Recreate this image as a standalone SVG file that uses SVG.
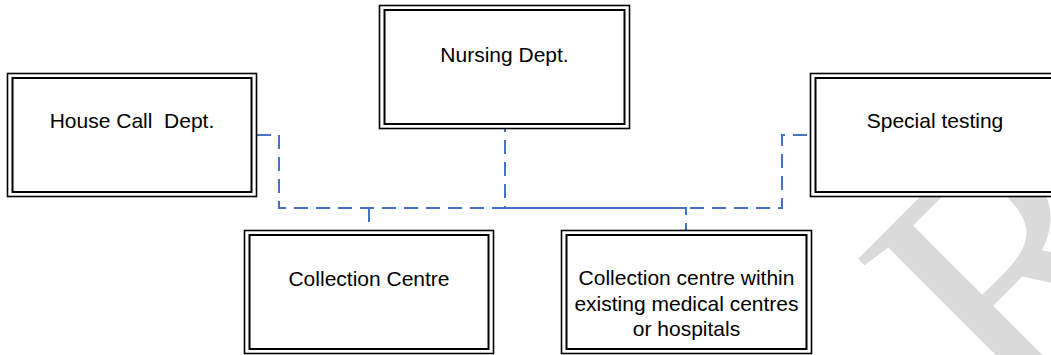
<svg xmlns="http://www.w3.org/2000/svg" width="1051" height="355" viewBox="0 0 1051 355">
  <style>
    .outer { fill: #ffffff; stroke: #000000; stroke-width: 1.6; }
    .inner { fill: none; stroke: #000000; stroke-width: 2; }
    .label { font-family: "Liberation Sans", Arial, sans-serif; font-size: 21px; fill: #000000; text-anchor: middle; white-space: pre; }
    .link { fill: none; stroke: #4472C4; stroke-width: 2; stroke-dasharray: 14 8; }
    .mark { font-family: "Liberation Serif", "Times New Roman", serif; font-size: 350px; fill: #dadada; }
  </style>

  <!-- background watermark letter -->
  <text class="mark" transform="translate(1013,428) rotate(-45)" x="0" y="0">R</text>

  <!-- connectors -->
  <g id="connectors">
    <path class="link" d="M257,135 H279 V208 H782 V135 H810"/>
    <path class="link" d="M505,129 V208 H686 V230" stroke-dashoffset="11"/>
    <path class="link" d="M369,208 V230"/>
  </g>

  <g id="node-house-call">
    <rect class="outer" x="7.5" y="73.5" width="249" height="123"/>
    <rect class="inner" x="12.5" y="78" width="239" height="114"/>
    <text class="label" x="132" y="128">House Call  Dept.</text>
  </g>

  <g id="node-nursing">
    <rect class="outer" x="379.5" y="5.5" width="250" height="123"/>
    <rect class="inner" x="384.5" y="10" width="240" height="114"/>
    <text class="label" x="504.5" y="62">Nursing Dept.</text>
  </g>

  <g id="node-special-testing">
    <rect class="outer" x="810.5" y="73.5" width="249" height="123"/>
    <rect class="inner" x="815.5" y="78" width="239" height="114"/>
    <text class="label" x="935" y="128">Special testing</text>
  </g>

  <g id="node-collection-centre">
    <rect class="outer" x="244.5" y="230.5" width="249" height="123"/>
    <rect class="inner" x="249.5" y="235" width="239" height="114"/>
    <text class="label" x="369" y="286">Collection Centre</text>
  </g>

  <g id="node-collection-within">
    <rect class="outer" x="561.5" y="230.5" width="250" height="123"/>
    <rect class="inner" x="566.5" y="235" width="240" height="114"/>
    <text class="label" x="686.5" y="285">Collection centre within</text>
    <text class="label" x="686.5" y="311">existing medical centres</text>
    <text class="label" x="686.5" y="336">or hospitals</text>
  </g>
</svg>
